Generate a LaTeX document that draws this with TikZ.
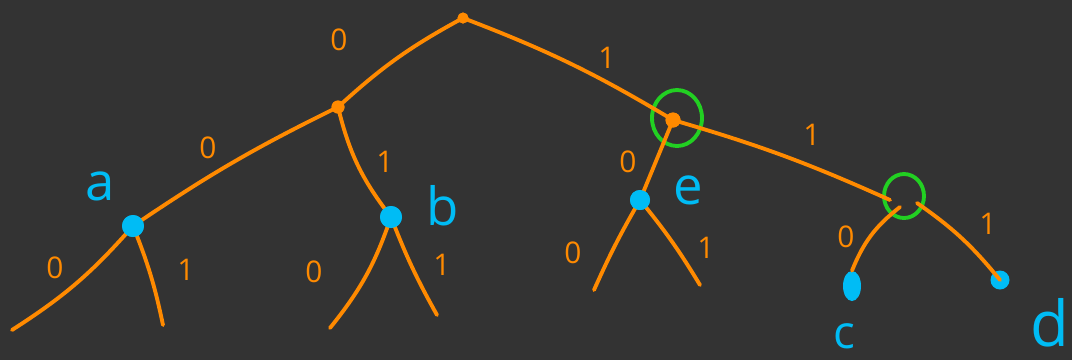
\documentclass[tikz,border=0pt]{standalone}
\usepackage{fontspec}
\setmainfont{Open Sans}
\usetikzlibrary{shapes.geometric}
\definecolor{bg}{HTML}{333333}
\definecolor{org}{HTML}{FF8A00}
\definecolor{blu}{HTML}{00BCF5}
\definecolor{grn}{HTML}{22D022}
\begin{document}
\begin{tikzpicture}[x=0.02cm,y=-0.02cm,
  edge/.style={draw=org,line width=2.2pt,line cap=round},
  odot/.style={circle,fill=org,inner sep=0pt,minimum size=#1},
  bdot/.style={circle,fill=blu,inner sep=0pt,minimum size=#1},
  ring/.style={ellipse,draw=grn,line width=2.2pt,inner sep=0pt},
  bit/.style={text=org,font=\fontsize{17}{17}\selectfont},
  letter/.style={text=blu,font=\fontsize{30}{30}\selectfont}]
\fill[bg] (0,0) rectangle (1072,360);
\useasboundingbox (0,0) rectangle (1072,360);
% internal nodes
\node[odot=0.22cm] (root) at (463,18) {};
\node[odot=0.26cm] (L) at (338,107) {};
\node[odot=0.3cm] (R) at (673,120) {};
\node[ring,minimum width=1.0cm,minimum height=1.12cm] (Rring) at (677,118) {};
\coordinate (RR) at (903,202);
\node[ring,minimum width=0.8cm,minimum height=0.88cm] (RRring) at (904,196) {};
% leaves / value nodes
\node[bdot=0.44cm] (a) at (133,226) {};
\node[bdot=0.44cm] (b) at (391,217) {};
\node[bdot=0.4cm] (e) at (640,200) {};
\node[ellipse,fill=blu,inner sep=0pt,minimum width=0.36cm,minimum height=0.6cm] (c) at (852,286) {};
\node[bdot=0.38cm] (d) at (1000,280) {};
\coordinate (a0) at (12,330);
\coordinate (a1) at (163,325);
\coordinate (b0) at (330,328);
\coordinate (b1) at (437,315);
\coordinate (e0) at (594,290);
\coordinate (e1) at (700,285);
\coordinate (RRin) at (890,200);
\coordinate (RRc) at (900,207);
\coordinate (RRd) at (917,203);
% edges
\draw[edge] (root.center) to[bend right=7] (L.center);
\draw[edge] (root.center) to[bend left=5] (R.center);
\draw[edge] (L.center) to[bend right=4] (a.center);
\draw[edge] (L.center) to[bend right=12] (b.center);
\draw[edge] (a.center) to[bend left=8] (a0);
\draw[edge] (a.center) to[bend left=5] (a1);
\draw[edge] (b.center) to[bend left=10] (b0);
\draw[edge] (b.center) to[bend right=4] (b1);
\draw[edge] (R.center) to (e.center);
\draw[edge] (e.center) to[bend right=3] (e0);
\draw[edge] (e.center) to[bend left=4] (e1);
\draw[edge] (R.center) to[bend left=4] (RRin);
\draw[edge] (RRc) to[bend right=15] (c.north);
\draw[edge] (RRd) to[bend left=8] (d.center);
% redraw dots on top
\node[odot=0.22cm] at (root) {};
\node[odot=0.26cm] at (L) {};
\node[odot=0.3cm] at (R) {};
\node[bdot=0.44cm] at (a) {};
\node[bdot=0.44cm] at (b) {};
\node[bdot=0.4cm] at (e) {};
% bit labels
\node[bit] at (339,40) {0};
\node[bit] at (607,58) {1};
\node[bit] at (208,148) {0};
\node[bit] at (385,162) {1};
\node[bit] at (55,268) {0};
\node[bit] at (186,270) {1};
\node[bit] at (314,272) {0};
\node[bit] at (442,265) {1};
\node[bit] at (628,162) {0};
\node[bit] at (573,253) {0};
\node[bit] at (706,248) {1};
\node[bit] at (812,135) {1};
\node[bit] at (846,237) {0};
\node[bit] at (988,224) {1};
% letters
\node[letter] at (100,186) {a};
\node[letter] at (443,206) {b};
\node[letter] at (688,190) {e};
\node[letter,anchor=base,inner sep=0pt,font=\fontsize{26}{26}\selectfont] at (844,348) {c};
\node[letter,anchor=base,inner sep=0pt,font=\fontsize{36}{36}\selectfont] at (1050,346) {d};
\end{tikzpicture}
\end{document}
